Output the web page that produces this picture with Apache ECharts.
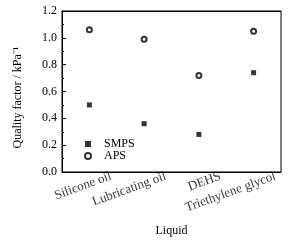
<!DOCTYPE html>
<html><head><meta charset="utf-8">
<script src="https://cdn.jsdelivr.net/npm/echarts@6/dist/echarts.min.js"></script>
<style>html,body{margin:0;padding:0;background:#fff}#c{width:302px;height:243px}</style>
</head><body><div id="c"></div>
<script>
const categories = ['Silicone oil', 'Lubricating oil', 'DEHS', 'Triethylene glycol'];
const smps = [0.50, 0.36, 0.28, 0.74];
const aps = [1.06, 0.99, 0.72, 1.05];
const yTicks = [0, 0.2, 0.4, 0.6, 0.8, 1.0, 1.2];

const F = 'Liberation Serif, Times New Roman, serif';
const chart = echarts.init(document.getElementById('c'));
chart.setOption({
  animation: false,
  backgroundColor: '#fff',
  grid: { left: 62, top: 11, width: 219, height: 161, show: true, borderColor: '#000', borderWidth: 1, outerBoundsMode: 'none', containLabel: false },
  legend: {
    orient: 'vertical', left: 79, top: 133, itemWidth: 6, itemHeight: 6, itemGap: 0,
    itemStyle: { borderWidth: 0.8 },
    textStyle: { fontFamily: F, fontSize: 12, color: '#000', lineHeight: 12, padding: [0, 0, 0, 8] },
    data: [{ name: 'SMPS', icon: 'rect' }, { name: 'APS', icon: 'emptyCircle' }]
  },
  xAxis: [{
    type: 'category', data: categories, boundaryGap: true,
    name: 'Liquid', nameLocation: 'middle', nameGap: 53, nameMoveOverlap: false,
    nameTextStyle: { fontFamily: F, fontSize: 12, color: '#000' },
    axisLine: { lineStyle: { color: '#000', width: 1 } },
    axisTick: { alignWithLabel: true, inside: true, length: 4, lineStyle: { color: '#000' } },
    axisLabel: { show: false }
  }, {
    type: 'category', data: categories, position: 'top', boundaryGap: true,
    axisLine: { lineStyle: { color: '#000' } },
    axisTick: { alignWithLabel: true, inside: true, length: 3, lineStyle: { color: '#000' } },
    axisLabel: { show: false }
  }],
  yAxis: {
    type: 'value', min: yTicks[0], max: yTicks[yTicks.length - 1], interval: 0.2,
    name: 'Quality factor / kPa\u207B\u00B9', nameLocation: 'middle', nameGap: 38, nameMoveOverlap: false,
    nameTextStyle: { fontFamily: F, fontSize: 12, color: '#000', padding: [0, 12, 0, 0] },
    axisLine: { show: true, lineStyle: { color: '#000', width: 1 } },
    axisTick: { show: true, inside: true, length: 4, lineStyle: { color: '#000' } },
    minorTick: { show: true, splitNumber: 2, length: 2, lineStyle: { color: '#000' } },
    splitLine: { show: false },
    axisLabel: { margin: 5, fontFamily: F, fontSize: 12, color: '#000', formatter: v => v.toFixed(1) }
  },
  series: [{
    name: 'SMPS', type: 'scatter', data: smps, symbol: 'rect', symbolSize: 5,
    itemStyle: { color: '#000' }
  }, {
    name: 'APS', type: 'scatter', data: aps, symbol: 'emptyCircle', symbolSize: 5,
    itemStyle: { color: '#000', borderColor: '#000', borderWidth: 0.7 }
  }, {
    name: 'catLabels', type: 'scatter', symbolSize: 0, silent: true, clip: false,
    data: categories.map(c => [c, yTicks[0]]),
    label: {
      show: true, position: 'inside', rotate: 20, align: 'right', verticalAlign: 'middle',
      offset: [19, 11], fontFamily: F, fontSize: 13, color: '#000',
      formatter: p => categories[p.dataIndex]
    }
  }]
});
</script></body></html>
